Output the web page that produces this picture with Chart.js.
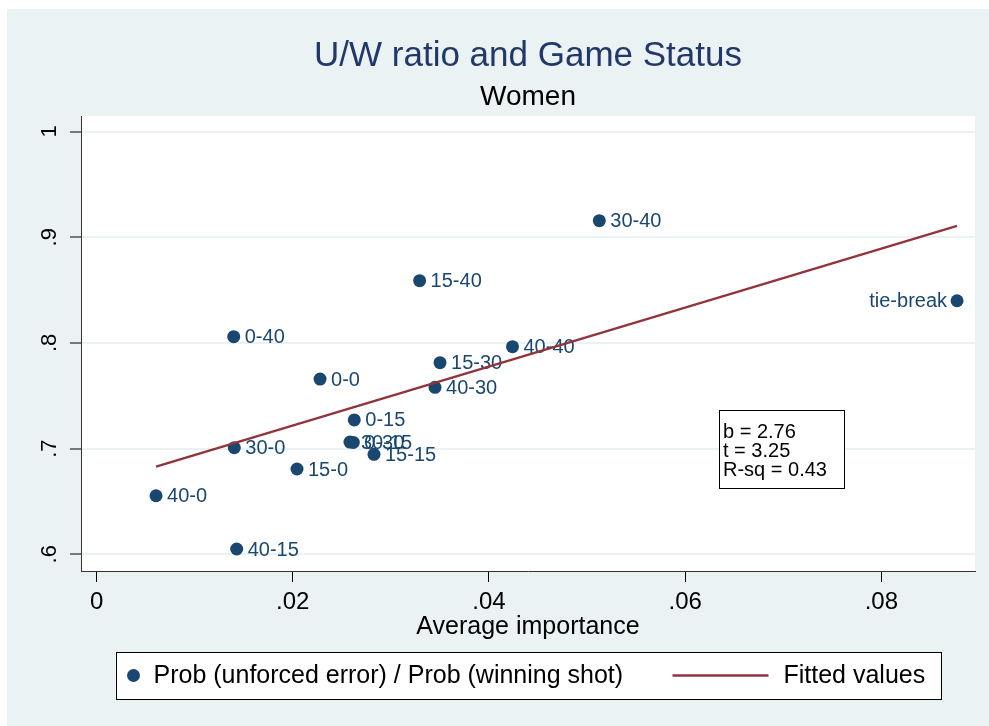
<!DOCTYPE html>
<html>
<head>
<meta charset="utf-8">
<title>U/W ratio and Game Status</title>
<script src="https://cdn.jsdelivr.net/npm/chart.js@4.4.1/dist/chart.umd.min.js"></script>
<style>
html,body{margin:0;padding:0;background:#fff;}
</style>
</head>
<body>
<canvas id="chart" width="989" height="726"></canvas>
<script>
/* ======================
   DATA
====================== */
const scores = ["40-0","30-0","0-40","40-15","15-0","0-0","0-15","30-15","0-30","15-15","40-30","15-30","15-40","40-40","30-40","tie-break"];
const importance = [0.00606,0.01404,0.01398,0.01428,0.02043,0.02278,0.02627,0.02583,0.02617,0.02828,0.03450,0.03501,0.03293,0.04240,0.05125,0.08772];
const uwRatio = [0.6554,0.7009,0.8059,0.6050,0.6807,0.7658,0.7271,0.7062,0.7058,0.6946,0.7580,0.7813,0.8589,0.7964,0.9156,0.8399];

const fitX = [0.00606,0.08772];
const fitY = [0.6829,0.9107];

const xTicks = [0,0.02,0.04,0.06,0.08];
const xTickLabels = ["0",".02",".04",".06",".08"];
const yTicks = [0.6,0.7,0.8,0.9,1];
const yTickLabels = [".6",".7",".8",".9","1"];

const statLines = ["b = 2.76","t = 3.25","R-sq = 0.43"];

/* ======================
   STYLE
====================== */
const FONT = "'Liberation Sans', Arial, sans-serif";
const NAVY = "#1a476f";
const MAROON = "#90353b";
const BG = "#eaf2f3";
const leftLabels = ["tie-break"];

/* ======================
   PLUGINS
====================== */
const bgPlugin = {
  id: "bg",
  beforeDraw(chart) {
    const {ctx, chartArea: a, width, height} = chart;
    ctx.save();
    ctx.fillStyle = "#fff";
    ctx.fillRect(0, 0, width, height);
    ctx.fillStyle = BG;
    ctx.fillRect(7, 9, width - 7, height - 9);
    ctx.fillStyle = "#fff";
    ctx.fillRect(a.left, a.top, a.right - a.left, a.bottom - a.top);
    ctx.restore();
  }
};

// marker labels, drawn before the fitted line goes on top
const pointLabels = {
  id: "pointLabels",
  afterDatasetDraw(chart, args) {
    if (args.index !== 0) return;
    const ctx = chart.ctx;
    ctx.save();
    ctx.font = "20px " + FONT;
    ctx.fillStyle = NAVY;
    ctx.textBaseline = "middle";
    args.meta.data.forEach((pt, i) => {
      const txt = scores[i];
      if (leftLabels.includes(txt)) {
        ctx.textAlign = "right";
        ctx.fillText(txt, pt.x - 10, pt.y + 1);
      } else {
        ctx.textAlign = "left";
        ctx.fillText(txt, pt.x + 11, pt.y + 1);
      }
    });
    ctx.restore();
  }
};

// rotated y tick labels (Stata style)
const yLabels = {
  id: "yLabels",
  afterDraw(chart) {
    const s = chart.scales.y, ctx = chart.ctx;
    ctx.save();
    ctx.font = "22px " + FONT;
    ctx.fillStyle = "#000";
    ctx.textAlign = "center";
    ctx.textBaseline = "alphabetic";
    s.ticks.forEach((t, i) => {
      const y = s.getPixelForValue(t.value);
      ctx.save();
      ctx.translate(s.right - 25, y);
      ctx.rotate(-Math.PI / 2);
      ctx.fillText(yTickLabels[i], 0, 0);
      ctx.restore();
    });
    ctx.restore();
  }
};

// stats box + legend box
const boxes = {
  id: "boxes",
  afterDraw(chart) {
    const {ctx, chartArea: a} = chart;
    ctx.save();

    // stats box
    const bx = a.right - 256, by = a.top + 294;
    ctx.fillStyle = "#fff";
    ctx.fillRect(bx, by, 125, 78);
    ctx.strokeStyle = "#000";
    ctx.lineWidth = 1;
    ctx.strokeRect(bx + 0.5, by + 0.5, 125, 78);
    ctx.fillStyle = "#000";
    ctx.font = "20px " + FONT;
    ctx.textAlign = "left";
    ctx.textBaseline = "alphabetic";
    statLines.forEach((l, i) => ctx.fillText(l, bx + 4, by + 28 + i * 19));

    // legend
    const cx = (a.left + a.right) / 2;
    const lx = cx - 412.5, ly = 652, lw = 825, lh = 47;
    ctx.fillStyle = "#fff";
    ctx.fillRect(lx, ly, lw, lh);
    ctx.strokeRect(Math.round(lx) + 0.5, ly + 0.5, lw, lh);
    const ds = chart.data.datasets;
    const my = ly + 23.5;
    ctx.fillStyle = ds[0].backgroundColor;
    ctx.beginPath();
    ctx.arc(lx + 18, my, 6.5, 0, Math.PI * 2);
    ctx.fill();
    ctx.strokeStyle = ds[1].borderColor;
    ctx.lineWidth = 2.5;
    ctx.beginPath();
    ctx.moveTo(lx + 557, my);
    ctx.lineTo(lx + 653, my);
    ctx.stroke();
    ctx.fillStyle = "#000";
    ctx.font = "25px " + FONT;
    ctx.textBaseline = "middle";
    ctx.fillText(ds[0].label, lx + 38, my + 1);
    ctx.fillText(ds[1].label, lx + 668, my + 1);

    ctx.restore();
  }
};

/* ======================
   CHART
====================== */
new Chart(document.getElementById("chart"), {
  type: "scatter",
  data: {
    datasets: [
      {
        label: "Prob (unforced error) / Prob (winning shot)",
        data: importance.map((x, i) => ({x: x, y: uwRatio[i]})),
        backgroundColor: NAVY,
        borderColor: NAVY,
        borderWidth: 0,
        pointRadius: 6.5,
        pointHoverRadius: 6.5,
        order: 1
      },
      {
        type: "line",
        label: "Fitted values",
        data: fitX.map((x, i) => ({x: x, y: fitY[i]})),
        borderColor: MAROON,
        borderWidth: 2.5,
        pointRadius: 0,
        fill: false,
        order: 0
      }
    ]
  },
  options: {
    responsive: false,
    animation: false,
    layout: {padding: {top: 20, left: 0, right: 14, bottom: 80}},
    plugins: {
      legend: {display: false},
      tooltip: {enabled: false},
      title: {
        display: true, fullSize: false,
        text: "U/W ratio and Game Status",
        color: "#22386a",
        font: {family: FONT, size: 35, weight: "normal", lineHeight: 1.2},
        padding: {top: 15.8, bottom: 0}
      },
      subtitle: {
        display: true, fullSize: false,
        text: "Women",
        color: "#000",
        font: {family: FONT, size: 28, weight: "normal", lineHeight: 1.2},
        padding: {top: 3, bottom: 1.6}
      }
    },
    scales: {
      x: {
        type: "linear",
        min: -0.00159,
        max: 0.08955,
        afterBuildTicks: s => { s.ticks = xTicks.map(v => ({value: v})); },
        afterFit: s => { s.height = 75; },
        ticks: {
          callback: (v, i) => xTickLabels[i],
          font: {family: FONT, size: 24},
          color: "#000",
          padding: 6,
          maxRotation: 0,
          autoSkip: false
        },
        grid: {drawOnChartArea: false, tickLength: 11, tickColor: "#000", tickWidth: 1},
        border: {color: "#333", width: 1},
        title: {
          display: true,
          text: "Average importance",
          color: "#000",
          font: {family: FONT, size: 25},
          padding: {top: 0, bottom: 4}
        }
      },
      y: {
        type: "linear",
        min: 0.5842,
        max: 1.01467,
        afterBuildTicks: s => { s.ticks = yTicks.map(v => ({value: v})); },
        afterFit: s => { s.width = 81; },
        ticks: {display: false},
        grid: {color: BG, lineWidth: 2, tickLength: 11, tickColor: "#000", tickWidth: 1},
        border: {color: "#333", width: 1}
      }
    }
  },
  plugins: [bgPlugin, pointLabels, yLabels, boxes]
});
</script>
</body>
</html>
